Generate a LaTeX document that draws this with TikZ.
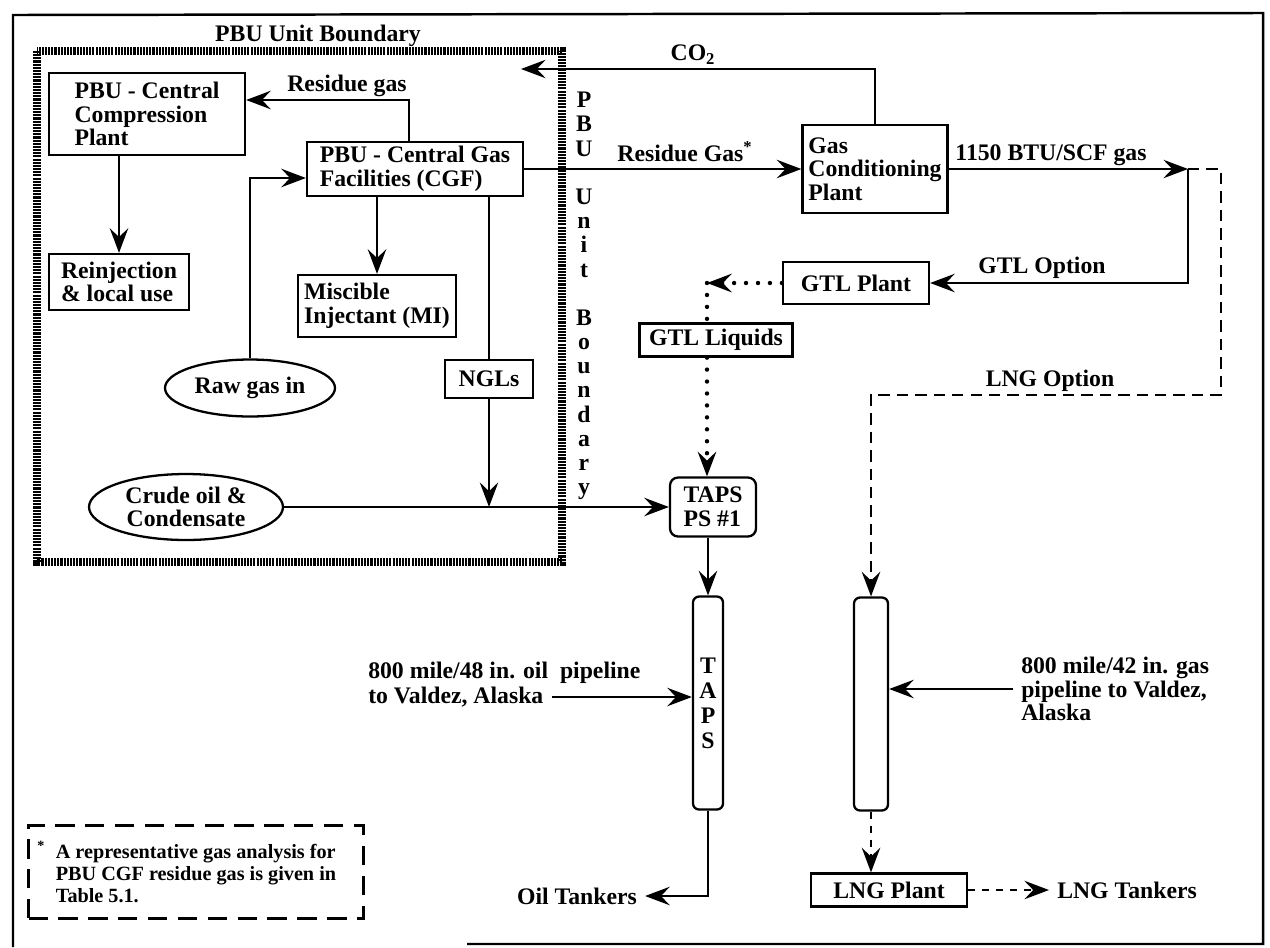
\documentclass[tikz,border=0pt]{standalone}
\usepackage{fontspec}
\setmainfont{Liberation Serif}
\usetikzlibrary{arrows.meta, shapes.geometric}

\begin{document}
\begin{tikzpicture}[x=0.02cm, y=-0.02cm,
      every node/.style={font=\fontsize{13.5}{13.4}\selectfont\bfseries},
      box/.style={draw, line width=1.3pt, inner sep=2pt},
      oval/.style={draw, ellipse, line width=1.3pt, align=center, inner sep=1pt},
      pipe/.style={draw, line width=1.3pt, rounded corners=0.12cm,
                   minimum height=4.26cm, align=center,
                   font=\fontsize{13.5}{14.2}\selectfont\bfseries},
      flow/.style={line width=1.1pt, -{Stealth[length=14pt, width=10.5pt, inset=5pt]}},
      link/.style={line width=1.1pt},
      dotline/.style={line width=2.5pt, line cap=round, dash pattern=on 0pt off 6.8pt},
      lngline/.style={line width=1.2pt, dash pattern=on 6.5pt off 4pt},
      shortdash/.style={line width=1.2pt, dash pattern=on 4pt off 4pt},
      boundary/.style={line width=4pt, dash pattern=on 1.2pt off 0.6pt},
      txt/.style={inner sep=4.5pt}]
    \useasboundingbox (0,0) rectangle (1270,947);
    % outer frame and unit boundary
    \draw[line width=1.4pt] (467,944) -- (1263,944) -- (1263,13) -- (13,15) -- (13,947);
    \draw[boundary] (37,51) rectangle (562,562);
    \node (title) at (318,36) {PBU Unit Boundary};
    \node[align=center, font=\fontsize{13.5}{13.77}\selectfont\bfseries]
          (bndv) at (584,296) {P\\B\\U\\~\\U\\n\\i\\t\\~\\B\\o\\u\\n\\d\\a\\r\\y};

    % inside the unit
    \node[box, minimum width=3.92cm, minimum height=1.64cm, align=left]
          (comp) at (147,114) {PBU - Central\\Compression\\Plant};
    \node[box, minimum width=2.8cm, minimum height=1.12cm, align=left]
          (reinj) at (119,282) {Reinjection\\\& local use};
    \node[box, minimum width=4.32cm, minimum height=1.08cm, align=left]
          (cgf) at (415,169) {PBU - Central Gas\\Facilities (CGF)};
    \node[box, minimum width=3.16cm, minimum height=1.24cm, align=left]
          (misc) at (377,306) {Miscible\\Injectant (MI)};
    \node[box, minimum width=1.76cm, minimum height=0.76cm]
          (ngl) at (489,379) {NGLs};
    \node[oval, minimum width=3.4cm, minimum height=1.14cm]
          (raw) at (250,388) {Raw gas in};
    \node[oval, minimum width=3.88cm, minimum height=1.32cm]
          (crude) at (186,507) {Crude oil \&\\Condensate};

    % outside the unit
    \node[box, minimum width=2.9cm, minimum height=1.76cm, align=left]
          (gcp) at (875,169) {Gas\\Conditioning\\Plant};
    \node[box, minimum width=2.92cm, minimum height=0.84cm]
          (gtl) at (856,283) {GTL Plant};
    \node[box, minimum width=3.06cm, minimum height=0.66cm]
          (liq) at (716,340) {GTL Liquids};
    \node[box, rounded corners=0.16cm, minimum width=1.72cm, minimum height=1.18cm, align=left]
          (tapsps) at (713,507) {TAPS\\PS \#1};
    \node[pipe, minimum width=0.6cm] (tapspipe) at (708,703) {T\\A\\P\\S};
    \node[pipe, minimum width=0.68cm] (lngpipe) at (871,704) {};
    \node[box, minimum width=3.12cm, minimum height=0.66cm]
          (lngplant) at (889,890) {LNG Plant};
    \node[txt] (oiltank) at (577,896) {Oil Tankers};
    \node[txt, anchor=west] (lngtank) at (1049,890) {LNG Tankers};
    \node[txt, anchor=west] (oil1) at (360,673) {800 mile/48 in. oil\ \ pipeline};
    \node[txt, anchor=west] (oil2) at (360,697) {to Valdez, Alaska};
    \node[txt, anchor=west, align=left]
          (gastxt) at (1013,689) {800 mile/42 in. gas\\pipeline to Valdez,\\Alaska};
    \node[draw, line width=1.2pt, dash pattern=on 11pt off 6pt,
          minimum width=6.7cm, minimum height=1.86cm, align=left,
          font=\fontsize{11.5}{12.5}\selectfont\bfseries]
          (note) at (196,872) {\llap{\textsuperscript{*}\hspace{6pt}}A representative gas analysis for\\PBU CGF residue gas is given in\\Table 5.1.};

    % stream labels
    \node (lres) at (347,86) {Residue gas};
    \node (lco2) at (693,55) {CO\textsubscript{2}};
    \node (lresg) at (685,152) {Residue Gas\textsuperscript{*}};
    \node (lbtu) at (1051,155) {1150 BTU/SCF gas};
    \node (lgtl) at (1042,268) {GTL Option};
    \node (llng) at (1050,381) {LNG Option};

    % bends and free ends
    \coordinate (rgup) at (409,100);
    \coordinate (rawin) at (249,178);
    \coordinate (co2end) at (521,69);
    \coordinate (split) at (1188,169);
    \coordinate (lngturn) at (1221,395);
    \coordinate (gtlout) at (707,283);

    % connectors
    \draw[flow] (cgf.north -| rgup) |- (comp.east |- rgup);
    \draw[flow] (comp.south -| reinj.north) -- (reinj.north);
    \draw[flow] (raw.north) |- (cgf.west |- rawin);
    \draw[flow] (cgf.south -| misc.north) -- (misc.north);
    \draw[link] (cgf.south -| ngl.north) -- (ngl.north);
    \draw[flow] (ngl.south) -- (ngl.south |- crude.east);
    \draw[flow] (crude.east) -- (tapsps.west);
    \draw[flow] (cgf.east) -- (cgf.east -| gcp.west);
    \draw[flow] (gcp.north) |- (co2end);
    \draw[flow] (gcp.east) -- (split);
    \draw[flow] (split) |- (gtl.east);
    \draw[flow, lngline] (split) -| (lngturn) -| (lngpipe.north);
    \draw[flow, dotline] (gtl.west) -- (gtlout);
    \draw[dotline] (gtlout) -- (gtlout |- liq.north);
    \draw[flow, dotline] (gtlout |- liq.south) -- (gtlout |- tapsps.north);
    \draw[flow] (tapsps.south -| tapspipe.north) -- (tapspipe.north);
    \draw[flow] (oil2.east) -- (oil2.east -| tapspipe.west);
    \draw[flow] (tapspipe.south) |- (oiltank.east);
    \draw[flow] (gastxt.west) -- (gastxt.west -| lngpipe.east);
    \draw[flow, shortdash] (lngpipe.south) -- (lngpipe.south |- lngplant.north);
    \draw[flow, shortdash] (lngplant.east) -- (lngtank.west);
\end{tikzpicture}
\end{document}
